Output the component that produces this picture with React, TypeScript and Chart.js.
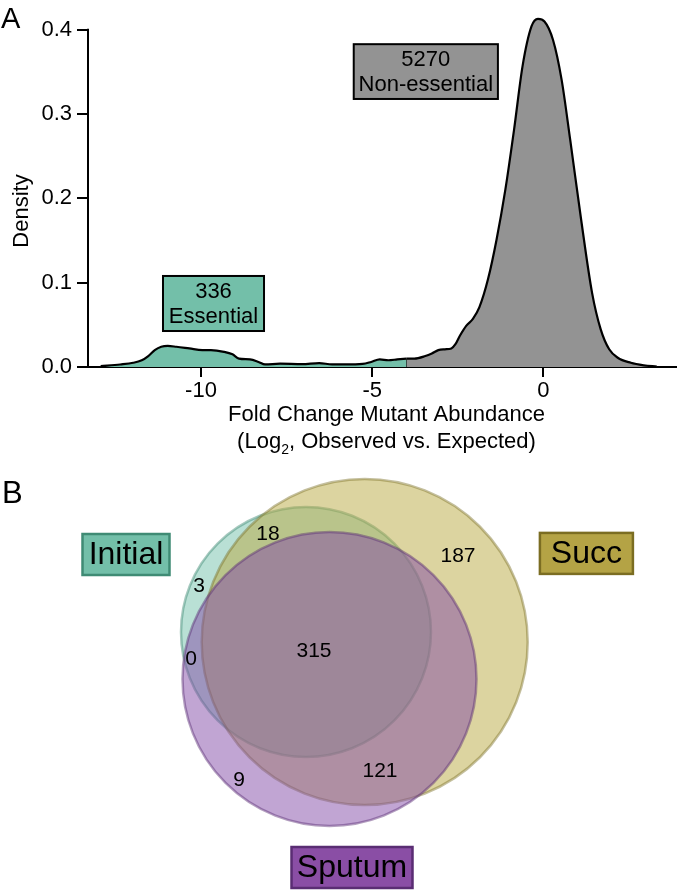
import React, { useEffect, useRef } from "react";
import { Chart, registerables } from "chart.js";

Chart.register(...registerables);

const FONT = "'Liberation Sans', Arial, Helvetica, sans-serif";

// ---------- Panel A: density of fold change ----------
const densityX = [
  -12.93, -12.36, -11.98, -11.73, -11.54, -11.35, -11.16, -10.97, -10.72, -10.34,
  -9.96, -9.71, -9.33, -9.08, -8.89, -8.57, -8.32, -8.13, -7.69, -7.05,
  -6.55, -6.17, -5.79, -5.28, -5.03, -4.78, -4.53, -4.27, -4.0, -3.77,
  -3.45, -3.26, -3.07, -2.88, -2.69, -2.57, -2.44, -2.25, -2.06, -1.87,
  -1.62, -1.37, -1.11, -0.86, -0.61, -0.35, -0.16, 0.03, 0.28, 0.53,
  0.78, 1.1, 1.42, 1.67, 1.92, 2.17, 2.55, 2.93, 3.31,
];
const densityY = [
  0.001, 0.003, 0.005, 0.008, 0.013, 0.02, 0.024, 0.025, 0.024, 0.022,
  0.02, 0.02, 0.018, 0.015, 0.01, 0.009, 0.006, 0.003, 0.004, 0.0035,
  0.0047, 0.003, 0.003, 0.0036, 0.006, 0.009, 0.008, 0.009, 0.01, 0.01,
  0.013, 0.016, 0.02, 0.021, 0.022, 0.027, 0.037, 0.049, 0.057, 0.071,
  0.104, 0.151, 0.211, 0.281, 0.357, 0.404, 0.413, 0.41, 0.388, 0.341,
  0.27, 0.175, 0.088, 0.045, 0.021, 0.011, 0.005, 0.002, 0.0005,
];
const essentialCutoff = -4;
const xTickValues = [-10, -5, 0];
const yTickValues = [0, 0.1, 0.2, 0.3, 0.4];
const classCounts = [336, 5270];
const classNames = ["Essential", "Non-essential"];
const xTitleLine1 = "Fold Change Mutant Abundance";
const xTitleLine2 = ["(Log", "2", ", Observed vs. Expected)"];
const yTitle = "Density";

// ---------- Panel B: Venn diagram ----------
const vennSets = ["Initial", "Succ", "Sputum"];
const vennCenterX = [0, 5.87, 2.35];
const vennCenterY = [0, -1.0, -4.7];
const vennRadius = [12.5, 16.3, 14.7];
const regionCounts = [315, 18, 3, 0, 187, 121, 9];
const regionX = [0.8, -3.8, -10.7, -11.5, 15.2, 7.4, -6.7];
const regionY = [-1.9, 9.8, 4.6, -2.7, 7.6, -13.9, -14.8];

// ---------- styles / layout (not data) ----------
const TEAL = "#73bfa9";
const GREY = "#939393";
const vennFill = ["rgba(115,193,171,0.5)", "rgba(185,169,65,0.5)", "rgba(131,75,167,0.5)"];
const vennStroke = ["rgba(60,135,112,0.45)", "rgba(125,112,40,0.45)", "rgba(88,45,115,0.45)"];
const setBoxFill = ["#73bfa9", "#b4a345", "#8a4ea5"];
const setBoxStroke = ["#3f8b74", "#7b6d22", "#5a2d73"];
const setBoxX = [-18.0, 28.04, 4.6];
const setBoxY = [7.75, 7.86, -23.55];
const setBoxW = [87, 93, 121];
const setBoxH = [41, 41, 41];
const classBoxX0 = [-11.11, -5.54];
const classBoxX1 = [-8.16, -1.33];
const classBoxY0 = [0.0427, 0.318];
const classBoxY1 = [0.108, 0.383];
const classBoxFill = [TEAL, GREY];

function panelAPlugin() {
  return {
    id: "panelA",
    afterDraw(chart: any) {
      const { ctx, chartArea, scales } = chart;
      const x = scales.x;
      const y = scales.y;
      ctx.save();
      // y axis line (0 .. top tick)
      ctx.beginPath();
      ctx.strokeStyle = "#000";
      ctx.lineWidth = 2;
      ctx.moveTo(chartArea.left, y.getPixelForValue(0) + 1);
      ctx.lineTo(chartArea.left, y.getPixelForValue(yTickValues[yTickValues.length - 1]) - 1);
      ctx.stroke();
      // annotation boxes
      for (let i = 0; i < classCounts.length; i++) {
        const x0 = x.getPixelForValue(classBoxX0[i]);
        const x1 = x.getPixelForValue(classBoxX1[i]);
        const y0 = y.getPixelForValue(classBoxY1[i]);
        const y1 = y.getPixelForValue(classBoxY0[i]);
        ctx.fillStyle = classBoxFill[i];
        ctx.fillRect(x0, y0, x1 - x0, y1 - y0);
        ctx.lineWidth = 2;
        ctx.strokeStyle = "#000";
        ctx.strokeRect(x0, y0, x1 - x0, y1 - y0);
        ctx.fillStyle = "#000";
        ctx.font = `22px ${FONT}`;
        ctx.textAlign = "center";
        ctx.textBaseline = "middle";
        const cx = (x0 + x1) / 2;
        const cy = (y0 + y1) / 2;
        ctx.fillText(String(classCounts[i]), cx, cy - 12);
        ctx.fillText(classNames[i], cx, cy + 13);
      }
      // x title (with subscript)
      const cx = (chartArea.left + chartArea.right) / 2 + 4;
      ctx.fillStyle = "#000";
      ctx.textBaseline = "middle";
      ctx.textAlign = "center";
      ctx.font = `22px ${FONT}`;
      ctx.fillText(xTitleLine1, cx, chartArea.bottom + 48);
      const big = `22px ${FONT}`;
      const small = `14px ${FONT}`;
      ctx.font = big;
      const w0 = ctx.measureText(xTitleLine2[0]).width;
      const w2 = ctx.measureText(xTitleLine2[2]).width;
      ctx.font = small;
      const w1 = ctx.measureText(xTitleLine2[1]).width;
      let sx = cx - (w0 + w1 + w2) / 2;
      const ly = chartArea.bottom + 75;
      ctx.textAlign = "left";
      ctx.font = big;
      ctx.fillText(xTitleLine2[0], sx, ly);
      sx += w0;
      ctx.font = small;
      ctx.fillText(xTitleLine2[1], sx, ly + 8);
      sx += w1;
      ctx.font = big;
      ctx.fillText(xTitleLine2[2], sx, ly);
      // y title
      ctx.save();
      ctx.translate(22, 211);
      ctx.rotate(-Math.PI / 2);
      ctx.textAlign = "center";
      ctx.textBaseline = "middle";
      ctx.font = big;
      ctx.fillText(yTitle, 0, 0);
      ctx.restore();
      // panel letter
      ctx.textAlign = "left";
      ctx.textBaseline = "alphabetic";
      ctx.font = `29px ${FONT}`;
      ctx.fillText("A", 1, 28);
      ctx.restore();
    },
  };
}

function panelBPlugin() {
  return {
    id: "panelB",
    afterDatasetsDraw(chart: any) {
      const { ctx, scales } = chart;
      const x = scales.x;
      const y = scales.y;
      ctx.save();
      ctx.fillStyle = "#000";
      ctx.font = `21px ${FONT}`;
      ctx.textAlign = "center";
      ctx.textBaseline = "middle";
      for (let i = 0; i < regionCounts.length; i++) {
        ctx.fillText(String(regionCounts[i]), x.getPixelForValue(regionX[i]), y.getPixelForValue(regionY[i]));
      }
      for (let i = 0; i < vennSets.length; i++) {
        const cx = x.getPixelForValue(setBoxX[i]);
        const cy = y.getPixelForValue(setBoxY[i]);
        const w = setBoxW[i];
        const h = setBoxH[i];
        ctx.fillStyle = setBoxFill[i];
        ctx.fillRect(cx - w / 2, cy - h / 2, w, h);
        ctx.lineWidth = 2.5;
        ctx.strokeStyle = setBoxStroke[i];
        ctx.strokeRect(cx - w / 2, cy - h / 2, w, h);
        ctx.fillStyle = "#000";
        ctx.font = `32px ${FONT}`;
        ctx.fillText(vennSets[i], cx, cy + 1);
      }
      ctx.textAlign = "left";
      ctx.textBaseline = "alphabetic";
      ctx.font = `31px ${FONT}`;
      ctx.fillText("B", 2, 43);
      ctx.restore();
    },
  };
}

export default function App() {
  const refA = useRef<HTMLCanvasElement | null>(null);
  const refB = useRef<HTMLCanvasElement | null>(null);

  useEffect(() => {
    const pts = densityX.map((v, i) => ({ x: v, y: densityY[i] }));
    const essential = pts.filter((p) => p.x <= essentialCutoff);
    const nonEssential = pts.filter((p) => p.x >= essentialCutoff);
    const cutPoint = pts.find((p) => p.x === essentialCutoff);
    const cutY = cutPoint ? cutPoint.y : 0;

    const common = {
      borderColor: "#000",
      borderWidth: 2.2,
      pointRadius: 0,
      pointHoverRadius: 0,
      cubicInterpolationMode: "monotone" as const,
    };

    const chartA = new Chart(refA.current as HTMLCanvasElement, {
      type: "line",
      data: {
        datasets: [
          { ...common, data: essential, fill: "origin", backgroundColor: TEAL },
          { ...common, data: nonEssential, fill: "origin", backgroundColor: GREY },
          {
            ...common,
            data: [
              { x: essentialCutoff, y: 0 },
              { x: essentialCutoff, y: cutY },
            ],
            fill: false,
          },
        ],
      },
      options: {
        animation: false,
        responsive: false,
        events: [],
        layout: { autoPadding: false, padding: { top: 13, right: 0, left: 0, bottom: 0 } },
        plugins: { legend: { display: false }, tooltip: { enabled: false } },
        scales: {
          x: {
            type: "linear",
            min: -13.3,
            max: 3.9,
            afterBuildTicks: (s: any) => {
              s.ticks = xTickValues.map((v) => ({ value: v }));
            },
            afterFit: (s: any) => {
              s.height = 93;
              s.paddingLeft = 0;
              s.paddingRight = 0;
            },
            grid: { display: true, drawOnChartArea: false, drawTicks: true, tickLength: 10, color: "#000", lineWidth: 2 },
            border: { display: true, color: "#000", width: 2 },
            ticks: {
              color: "#000",
              font: { family: FONT, size: 22 },
              padding: 1,
              maxRotation: 0,
              callback: (v: any) => String(v),
            },
          },
          y: {
            type: "linear",
            min: 0,
            max: 0.42,
            afterBuildTicks: (s: any) => {
              s.ticks = yTickValues.map((v) => ({ value: v }));
            },
            afterFit: (s: any) => {
              s.width = 88;
              s.paddingTop = 0;
              s.paddingBottom = 0;
            },
            grid: { display: true, drawOnChartArea: false, drawTicks: true, tickLength: 11, color: "#000", lineWidth: 2 },
            border: { display: false },
            ticks: {
              color: "#000",
              font: { family: FONT, size: 22 },
              padding: 5,
              callback: (v: any) => Number(v).toFixed(1),
            },
          },
        },
      },
      plugins: [panelAPlugin()],
    });

    const chartB = new Chart(refB.current as HTMLCanvasElement, {
      type: "bubble",
      data: {
        datasets: vennSets.map((name, i) => ({
          label: name,
          order: vennSets.length - 1 - i,
          data: [{ x: vennCenterX[i], y: vennCenterY[i], r: 1 }],
          backgroundColor: vennFill[i],
          borderColor: vennStroke[i],
          borderWidth: 2.5,
          clip: false as any,
        })),
      },
      options: {
        animation: false,
        responsive: false,
        events: [],
        layout: { autoPadding: false, padding: 0 },
        plugins: { legend: { display: false }, tooltip: { enabled: false } },
        scales: {
          x: { type: "linear", display: false, min: -30.6, max: 37.1 },
          y: { type: "linear", display: false, min: -25.9, max: 17.2 },
        },
      },
      plugins: [panelBPlugin()],
    });
    // convert circle radii (data units) to pixels through the x scale, then redraw
    const sx = chartB.scales.x;
    chartB.data.datasets.forEach((ds: any, i: number) => {
      ds.data[0].r = Math.abs(sx.getPixelForValue(vennRadius[i]) - sx.getPixelForValue(0));
    });
    chartB.update("none");

    return () => {
      chartA.destroy();
      chartB.destroy();
    };
  }, []);

  return (
    <div style={{ position: "absolute", left: 0, top: 0, width: 677, height: 891, background: "#fff" }}>
      <canvas ref={refA} width={677} height={460} style={{ position: "absolute", left: 0, top: 0, width: 677, height: 460 }} />
      <canvas ref={refB} width={677} height={431} style={{ position: "absolute", left: 0, top: 460, width: 677, height: 431 }} />
    </div>
  );
}
